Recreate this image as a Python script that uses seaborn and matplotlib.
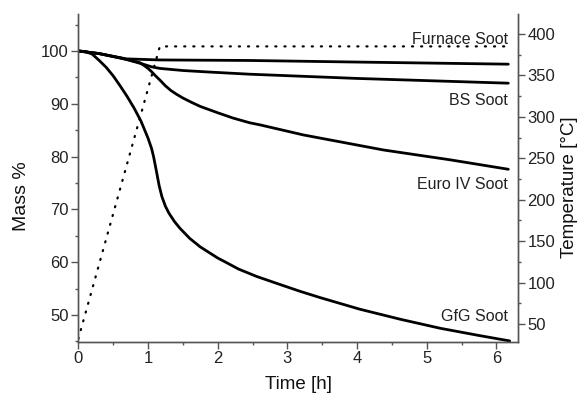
import matplotlib
matplotlib.use("Agg")
import matplotlib.pyplot as plt
import seaborn as sns
import numpy as np
import pandas as pd
from matplotlib.ticker import MultipleLocator

# ---- data ----
gfg_t = [0, 0.1, 0.2, 0.3, 0.4, 0.5, 0.6, 0.7, 0.8, 0.9, 1.0, 1.05, 1.08, 1.12, 1.16, 1.2,
         1.25, 1.3, 1.38, 1.46, 1.6, 1.75, 2.0, 2.13, 2.3, 2.56, 2.89, 3.18, 3.47, 4.04,
         4.62, 5.19, 5.76, 6.19]
gfg_m = [100, 99.9, 99.4, 98.2, 96.9, 95.3, 93.4, 91.4, 89.2, 86.7, 83.5, 81.6, 80.0, 77.3,
         74.5, 72.4, 70.6, 69.3, 67.7, 66.4, 64.5, 62.9, 60.8, 59.9, 58.7, 57.3, 55.8, 54.5,
         53.3, 51.1, 49.2, 47.5, 46.1, 45.1]

euro_t = [0, 0.3, 0.6, 0.88, 0.95, 1.0, 1.05, 1.1, 1.17, 1.25, 1.33, 1.41, 1.5, 1.62, 1.75,
          2.0, 2.22, 2.46, 2.61, 3.23, 4.38, 5.33, 6.17]
euro_m = [100, 99.5, 98.7, 97.8, 97.2, 96.7, 96.1, 95.4, 94.5, 93.4, 92.5, 91.8, 91.1, 90.3,
          89.5, 88.3, 87.3, 86.4, 86.0, 84.1, 81.25, 79.4, 77.6]

bs_t = [0, 0.3, 0.69, 0.93, 1.05, 1.17, 1.5, 1.89, 2.46, 4.0, 6.17]
bs_m = [100, 99.5, 98.4, 97.5, 97.0, 96.7, 96.3, 96.0, 95.6, 94.8, 93.9]

furnace_t = [0, 0.3, 0.69, 1.17, 2.46, 4.0, 6.17]
furnace_m = [100, 99.5, 98.5, 98.3, 98.2, 97.9, 97.5]

temp_t = [0, 1.17, 6.12]
temp_c = [32, 385, 385]

labels = ["Furnace Soot", "BS Soot", "Euro IV Soot", "GfG Soot"]

# ---- style ----
sns.set_theme(style="ticks")
plt.rcParams['font.family'] = ['Liberation Sans', 'DejaVu Sans']
plt.rcParams['axes.edgecolor'] = '#555555'
plt.rcParams['xtick.color'] = '#555555'
plt.rcParams['ytick.color'] = '#555555'

fig = plt.figure(figsize=(5.78, 3.99), dpi=100)
ax = fig.add_axes([78.3 / 578, 1 - 341.7 / 399, (517.7 - 78.3) / 578, (341.7 - 14) / 399])
ax2 = ax.twinx()

series = [(furnace_t, furnace_m), (bs_t, bs_m), (euro_t, euro_m), (gfg_t, gfg_m)]
for (t, m), name in zip(series, labels):
    df = pd.DataFrame({"t": t, "m": m})
    sns.lineplot(data=df, x="t", y="m", ax=ax, color="black", linewidth=2.0,
                 estimator=None, sort=False)

tdf = pd.DataFrame({"t": temp_t, "T": temp_c})
sns.lineplot(data=tdf, x="t", y="T", ax=ax2, color="black", linewidth=1.6,
             estimator=None, sort=False)
ax2.lines[0].set_dashes((0.5, 3.6))
ax2.lines[0].set_dash_capstyle('round')

ax.set_xlim(0, 6.305)
ax.set_ylim(44.95, 107.0)
ax2.set_ylim(28.6, 424.1)

ax.xaxis.set_major_locator(MultipleLocator(1))
ax.xaxis.set_minor_locator(MultipleLocator(0.5))
ax.yaxis.set_major_locator(MultipleLocator(10))
ax.yaxis.set_minor_locator(MultipleLocator(5))
ax2.yaxis.set_major_locator(MultipleLocator(50))
ax2.yaxis.set_minor_locator(MultipleLocator(25))

for a in (ax, ax2):
    a.spines['top'].set_visible(False)
    for s in a.spines.values():
        s.set_linewidth(1.0)
    a.tick_params(which='major', length=5, width=1, labelsize=12, labelcolor='#222222', pad=2)
    a.tick_params(which='minor', length=2.5, width=1)

ax.set_xlabel("Time [h]", fontsize=13.5, color='#111111')
ax.set_ylabel("Mass %", fontsize=14, color='#111111')
ax2.set_ylabel("Temperature [°C]", fontsize=13.5, color='#111111')
ax.xaxis.set_label_coords(0.5007, -0.132)
ax.xaxis.label.set_va('center')
ax.yaxis.set_label_coords(-0.130, 0.443)
ax.yaxis.label.set_va('center')
ax2.yaxis.set_label_coords(1.117, 0.473)
ax2.yaxis.label.set_va('center')

label_y = [102.1, 90.7, 74.8, 49.8]
for name, y in zip(labels, label_y):
    ax.text(6.165, y, name, ha='right', va='center', fontsize=11.5, color='#222222')

fig.savefig("out.png", dpi=100)
